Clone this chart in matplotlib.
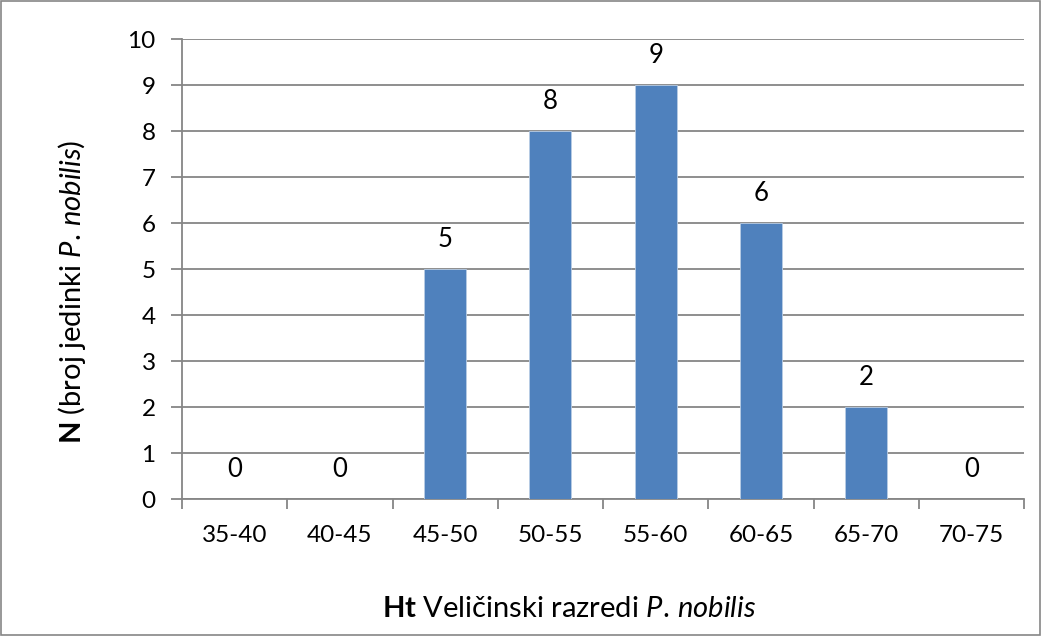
import matplotlib.pyplot as plt
from matplotlib.patches import Rectangle
import numpy as np

# podaci
razredi = ['35-40', '40-45', '45-50', '50-55', '55-60', '60-65', '65-70', '70-75']
broj = [0, 0, 5, 8, 9, 6, 2, 0]

plt.rcParams['font.family'] = ['Lato', 'DejaVu Sans']
plt.rcParams['mathtext.fontset'] = 'custom'
plt.rcParams['mathtext.rm'] = 'Lato'
plt.rcParams['mathtext.it'] = 'Lato:italic'
plt.rcParams['mathtext.bf'] = 'Lato:bold'

siva = '#868686'
plava = '#4F81BD'

fig = plt.figure(figsize=(10.41, 6.36), dpi=100)
ax = fig.add_axes([182 / 1041, 1 - 499 / 636, 842 / 1041, 460 / 636])

x = np.arange(len(razredi))
ax.bar(x, broj, width=0.4, color=plava, edgecolor='#B9CDE5', linewidth=0.6, zorder=3)

for xi, v in zip(x, broj):
    ax.text(xi, v + 0.38, str(v), ha='center', va='bottom', fontsize=18.5, color='black')

ax.set_xlim(-0.5, len(razredi) - 0.5)
ax.set_ylim(0, 10)
ax.set_yticks(range(0, 11))
ax.set_xticks(x)
ax.set_xticklabels(razredi)
ax.set_xticks(np.arange(-0.5, len(razredi)), minor=True)
ax.tick_params(axis='x', which='major', length=0, pad=19, labelsize=17.5)
ax.tick_params(axis='x', which='minor', length=7, color=siva, width=1.3)
ax.tick_params(axis='y', length=8, color=siva, width=1.3, pad=11, labelsize=17.5)

ax.grid(axis='y', color=siva, linewidth=1.3, zorder=0)
ax.set_axisbelow(True)
for s in ['top', 'right']:
    ax.spines[s].set_visible(False)
for s in ['left', 'bottom']:
    ax.spines[s].set_color(siva)
    ax.spines[s].set_linewidth(1.3)

ax.set_ylabel(r'$\mathbf{N}$ (broj jedinki $\mathit{P.\,nobilis}$)', fontsize=21)
ax.set_xlabel(r'$\mathbf{Ht}$ Veličinski razredi $\mathit{P.\,nobilis}$', fontsize=21)
ax.yaxis.set_label_coords(-0.112, 0.45)
ax.xaxis.set_label_coords(0.4596, -0.21)

# okvir slike
fig.patches.append(Rectangle((0.001, 0.0015), 0.998, 0.997, transform=fig.transFigure,
                             fill=False, edgecolor=siva, linewidth=1.2))

fig.savefig('out.png', dpi=100)
